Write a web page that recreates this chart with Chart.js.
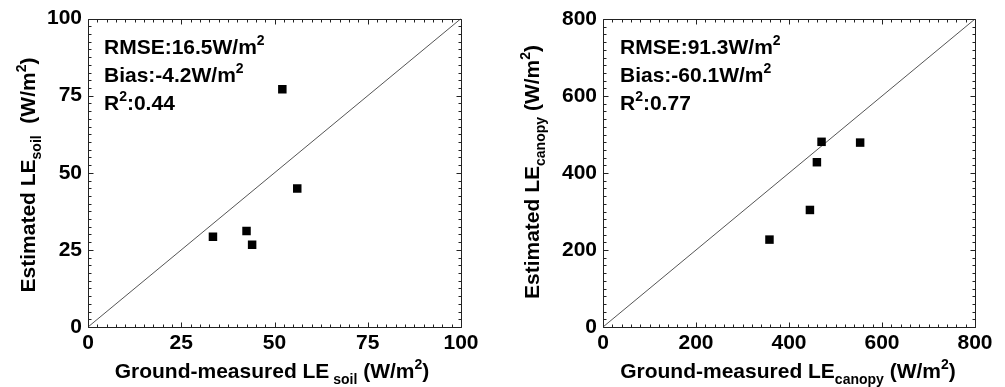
<!DOCTYPE html>
<html>
<head>
<meta charset="utf-8">
<script src="https://cdn.jsdelivr.net/npm/chart.js@4"></script>
<style>
    html, body { margin: 0; padding: 0; background: #fff; }
    #wrap { position: relative; width: 1005px; height: 387px; }
    .panel { position: absolute; top: 0; height: 387px; }
    #p1 { left: 0; width: 500px; }
    #p2 { left: 500px; width: 505px; }
</style>
</head>
<body>
<div id="wrap">
    <div class="panel" id="p1"><canvas id="soil"></canvas></div>
    <div class="panel" id="p2"><canvas id="canopy"></canvas></div>
</div>
<script>
// LE soil: ground-measured vs estimated (W/m2)
const soilMeasured = [52.1, 56.1, 33.5, 42.5, 44.0];
const soilEstimated = [77.1, 44.9, 29.3, 31.1, 26.7];
const soilTicks = [0, 25, 50, 75, 100];

// LE canopy: ground-measured vs estimated (W/m2)
const canopyMeasured = [470, 553, 460, 445, 358];
const canopyEstimated = [481, 479, 428, 304, 227];
const canopyTicks = [0, 200, 400, 600, 800];

const soilStats = ["16.5", "-4.2", "0.44"];
const canopyStats = ["91.3", "-60.1", "0.77"];

const FONT = "'Liberation Sans', Arial, sans-serif";

// draws a run of text pieces, some of them sub/superscript
function richWidth(ctx, parts, size) {
    let w = 0;
    parts.forEach((p) => {
        const s = p.m === "n" ? size : Math.round(size * 0.66);
        ctx.font = "bold " + s + "px " + FONT;
        w += ctx.measureText(p.t).width;
    });
    return w;
}

function drawRich(ctx, parts, x, y, size, align) {
    let cx = align === "center" ? x - richWidth(ctx, parts, size) / 2 : x;
    ctx.textAlign = "left";
    ctx.textBaseline = "alphabetic";
    parts.forEach((p) => {
        let s = size, dy = 0;
        if (p.m === "sub") { s = Math.round(size * 0.66); dy = size * 0.28; }
        if (p.m === "sup") { s = Math.round(size * 0.66); dy = -size * 0.42; }
        ctx.font = "bold " + s + "px " + FONT;
        ctx.fillText(p.t, cx, y + dy);
        cx += ctx.measureText(p.t).width;
    });
}

// box frame, inward ticks, stats block and axis titles for one panel
function framePlugin(cfg) {
    return {
        id: "frame",
        afterDraw(chart) {
            const ctx = chart.ctx;
            const a = chart.chartArea;
            const xs = chart.scales.x, ys = chart.scales.y;
            const L = Math.round(a.left) + 0.5, R = Math.round(a.right) + 0.5;
            const T = Math.round(a.top) + 0.5, B = Math.round(a.bottom) + 0.5;
            ctx.save();
            ctx.strokeStyle = "#222";
            ctx.lineWidth = 1;
            ctx.beginPath();
            ctx.rect(L, T, R - L, B - T);

            const count = Math.round((xs.max - xs.min) / cfg.minor);
            for (let n = 0; n <= count; n++) {
                const len = n % cfg.per === 0 ? 5 : 3;
                const v = xs.min + n * cfg.minor;
                const px = Math.round(xs.getPixelForValue(v)) + 0.5;
                ctx.moveTo(px, B); ctx.lineTo(px, B - len);
                ctx.moveTo(px, T); ctx.lineTo(px, T + len);
                const py = Math.round(ys.getPixelForValue(v)) + 0.5;
                ctx.moveTo(L, py); ctx.lineTo(L + len, py);
                ctx.moveTo(R, py); ctx.lineTo(R - len, py);
            }
            ctx.stroke();

            ctx.fillStyle = "#000";
            cfg.stats.forEach((line, i) => {
                drawRich(ctx, line, a.left + cfg.statsX, a.top + 35 + i * 28, 21, "left");
            });

            drawRich(ctx, cfg.xTitle, cfg.xTitleX, 378, 21, "center");

            ctx.translate(cfg.yTitleX, cfg.yTitleY);
            ctx.rotate(-Math.PI / 2);
            drawRich(ctx, cfg.yTitle, 0, 0, 21, "center");
            ctx.restore();
        },
    };
}

function statsLines(vals) {
    return [
        [{ t: "RMSE:" + vals[0] + "W/m", m: "n" }, { t: "2", m: "sup" }],
        [{ t: "Bias:" + vals[1] + "W/m", m: "n" }, { t: "2", m: "sup" }],
        [{ t: "R", m: "n" }, { t: "2", m: "sup" }, { t: ":" + vals[2], m: "n" }],
    ];
}

function makePanel(id, measured, estimated, ticks, pad, frame) {
    const max = ticks[ticks.length - 1];
    const step = ticks[1] - ticks[0];
    const tickFont = { family: FONT, size: 21, weight: "bold" };
    new Chart(document.getElementById(id), {
        type: "scatter",
        data: {
            datasets: [
                {
                    data: measured.map((x, i) => ({ x: x, y: estimated[i] })),
                    pointStyle: "rect",
                    pointRadius: 6,
                    pointHoverRadius: 6,
                    backgroundColor: "#000",
                    borderWidth: 0,
                },
                {
                    // 1:1 line
                    data: [{ x: ticks[0], y: ticks[0] }, { x: max, y: max }],
                    showLine: true,
                    borderColor: "#555",
                    borderWidth: 1,
                    pointRadius: 0,
                },
            ],
        },
        plugins: [framePlugin(frame)],
        options: {
            responsive: false,
            animation: false,
            layout: { padding: { top: pad.top, right: pad.right, left: 0, bottom: 0 } },
            scales: {
                x: {
                    min: ticks[0],
                    max: max,
                    grid: { display: false, drawTicks: false },
                    border: { display: false },
                    ticks: { stepSize: step, font: tickFont, color: "#000", padding: 4, maxRotation: 0 },
                    afterFit: (s) => { s.height = 60; },
                },
                y: {
                    min: ticks[0],
                    max: max,
                    grid: { display: false, drawTicks: false },
                    border: { display: false },
                    ticks: { stepSize: step, font: tickFont, color: "#000", padding: 6 },
                    afterFit: (s) => { s.width = pad.left; },
                },
            },
            plugins: {
                legend: { display: false },
                tooltip: { enabled: false },
            },
        },
    });
}

document.getElementById("soil").width = 500;
document.getElementById("soil").height = 387;
document.getElementById("canopy").width = 505;
document.getElementById("canopy").height = 387;

makePanel("soil", soilMeasured, soilEstimated, soilTicks,
    { top: 16, right: 39, left: 88 },
    {
        minor: 2.5,
        per: 10,
        statsX: 16,
        stats: statsLines(soilStats),
        xTitleX: 272,
        xTitle: [{ t: "Ground-measured LE", m: "n" }, { t: " soil", m: "sub" }, { t: " (W/m", m: "n" }, { t: "2", m: "sup" }, { t: ")", m: "n" }],
        yTitleX: 35,
        yTitleY: 175,
        yTitle: [{ t: "Estimated LE", m: "n" }, { t: "soil", m: "sub" }, { t: "  (W/m", m: "n" }, { t: "2", m: "sup" }, { t: ")", m: "n" }],
    });

makePanel("canopy", canopyMeasured, canopyEstimated, canopyTicks,
    { top: 19, right: 30, left: 103 },
    {
        minor: 20,
        per: 10,
        statsX: 17,
        stats: statsLines(canopyStats),
        xTitleX: 288,
        xTitle: [{ t: "Ground-measured LE", m: "n" }, { t: "canopy", m: "sub" }, { t: " (W/m", m: "n" }, { t: "2", m: "sup" }, { t: ")", m: "n" }],
        yTitleX: 39,
        yTitleY: 172,
        yTitle: [{ t: "Estimated LE", m: "n" }, { t: "canopy", m: "sub" }, { t: " (W/m", m: "n" }, { t: "2", m: "sup" }, { t: ")", m: "n" }],
    });
</script>
</body>
</html>
